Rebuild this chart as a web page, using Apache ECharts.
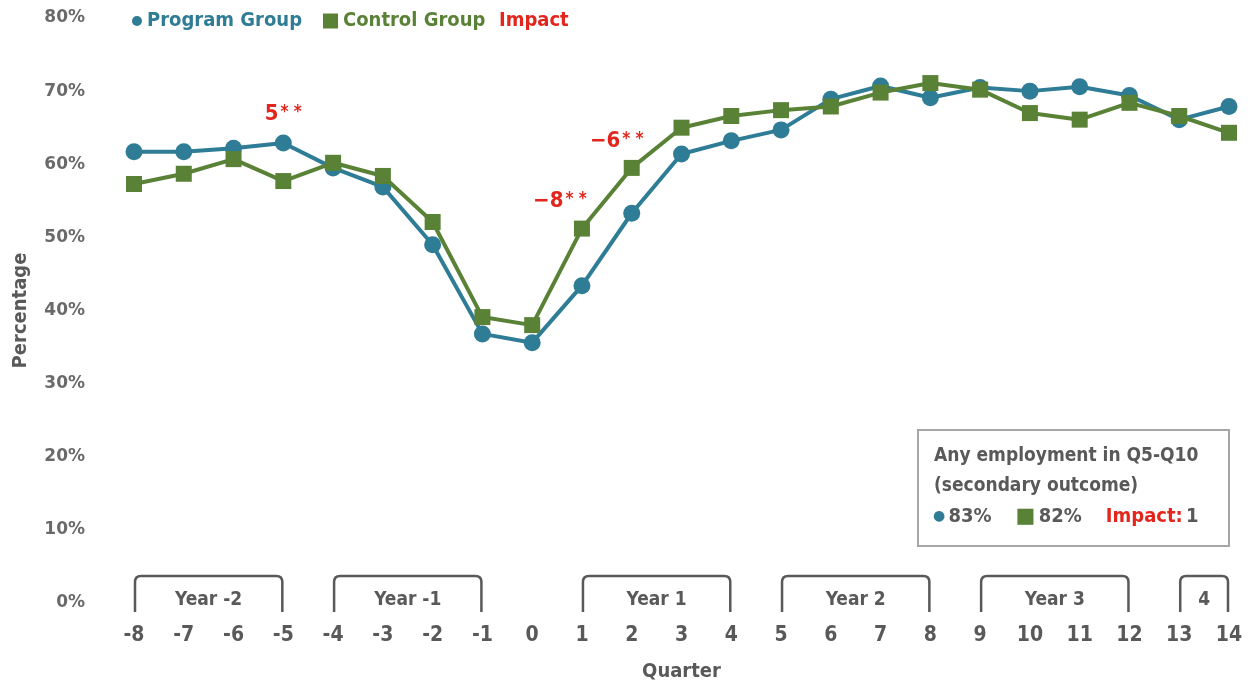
<!DOCTYPE html>
<html>
<head>
<meta charset="utf-8">
<title>Employment by quarter</title>
<script src="https://cdn.jsdelivr.net/npm/echarts@6/dist/echarts.min.js"></script>
<style>
  html, body { margin: 0; padding: 0; background: #fff; }
  #chart { width: 1250px; height: 684px; }
</style>
</head>
<body>
<div id="chart"></div>
<script>
// Quarters relative to random assignment
const quarters = [-8, -7, -6, -5, -4, -3, -2, -1, 0, 1, 2, 3, 4, 5, 6, 7, 8, 9, 10, 11, 12, 13, 14];

// Share employed in each quarter (%)
const programGroup = [61.7, 61.7, 62.2, 62.9, 59.5, 56.9, 49.0, 36.8, 35.6, 43.4, 53.3, 61.4, 63.2, 64.7, 68.9, 70.7, 69.1, 70.5, 70.0, 70.6, 69.4, 66.1, 67.9];
const controlGroup = [57.3, 58.7, 60.7, 57.7, 60.2, 58.4, 52.1, 39.1, 38.0, 51.2, 59.5, 65.0, 66.6, 67.4, 67.9, 69.8, 71.1, 70.2, 67.0, 66.1, 68.4, 66.6, 64.3];

// Statistically significant impacts (percentage points)
const impactQuarters = [-5, 1, 2];
const impactLabels = ['5**', '\u22128**', '\u22126**'];

// Year groupings shown as brackets under the axis
const yearStart = [-8, -4, 1, 5, 9, 13];
const yearEnd = [-5, -1, 4, 8, 12, 14];
const yearLabels = ['Year -2', 'Year -1', 'Year 1', 'Year 2', 'Year 3', '4'];

// Summary box values
const summaryTitle = ['Any employment in Q5-Q10', '(secondary outcome)'];
const summaryProgram = '83%';
const summaryControl = '82%';
const summaryImpact = '1';

const yTicks = { min: 0, max: 80, interval: 10 };

const C_PROG = '#2E7C95';
const C_CTRL = '#5A8237';
const C_RED = '#E2261E';
const C_TEXT = '#595959';
const NARROW = "'DejaVu Sans Condensed', 'Liberation Sans Narrow', sans-serif";
const WIDE = "'DejaVu Sans', 'Liberation Sans', sans-serif";

// Label offsets for the impact annotations (pixels)
const impactOffsets = { '-5': [0, -12], '1': [-22, -11], '2': [-15, -10] };

const impactPoints = impactQuarters.map((q, i) => {
  const idx = quarters.indexOf(q);
  const y = Math.max(programGroup[idx], controlGroup[idx]);
  const m = impactLabels[i].match(/^(.*?)(\*+)$/);
  return {
    value: [q, y],
    label: {
      offset: impactOffsets[String(q)],
      formatter: '{n|' + m[1] + '}{s|' + m[2].split('').join(' ') + '}'
    }
  };
});

const chart = echarts.init(document.getElementById('chart'), null, { renderer: 'canvas' });

function bracketItem(params, api) {
  const i = params.dataIndex;
  const s = api.coord([api.value(0), 0]);
  const e = api.coord([api.value(1), 0]);
  const base = s[1];
  const top = base - 27;
  const bot = base + 9;
  const r = 6;
  const x1 = s[0] + 1, x2 = e[0] - 1;
  const d = 'M' + x1 + ' ' + bot +
    ' L' + x1 + ' ' + (top + r) +
    ' Q' + x1 + ' ' + top + ' ' + (x1 + r) + ' ' + top +
    ' L' + (x2 - r) + ' ' + top +
    ' Q' + x2 + ' ' + top + ' ' + x2 + ' ' + (top + r) +
    ' L' + x2 + ' ' + bot;
  return {
    type: 'group',
    children: [
      { type: 'path', shape: { pathData: d }, style: { stroke: C_TEXT, lineWidth: 2.5, fill: null } },
      {
        type: 'text',
        style: {
          text: yearLabels[i], x: (s[0] + e[0]) / 2, y: base - 3,
          align: 'center', verticalAlign: 'middle',
          font: 'bold 19px ' + NARROW, fill: C_TEXT
        }
      }
    ]
  };
}

const option = {
  animation: false,
  backgroundColor: '#fff',
  grid: { left: 134, right: 21, top: 18, bottom: 81, containLabel: false, outerBoundsMode: 'none' },
  legend: [
    {
      data: ['Program Group'], icon: 'circle', left: 127, top: 6,
      itemWidth: 10, itemHeight: 10, itemGap: 0,
      textStyle: { color: C_PROG, fontFamily: NARROW, fontWeight: 'bold', fontSize: 20 },
      selectedMode: false
    },
    {
      data: ['Control Group'], icon: 'rect', left: 318, top: 6,
      itemWidth: 15, itemHeight: 15,
      textStyle: { color: C_CTRL, fontFamily: NARROW, fontWeight: 'bold', fontSize: 20 },
      selectedMode: false
    },
    {
      data: [{ name: 'Impact', icon: 'none' }], left: 489, top: 6,
      itemWidth: 0, itemHeight: 0,
      textStyle: { color: C_RED, fontFamily: NARROW, fontWeight: 'bold', fontSize: 20 },
      selectedMode: false
    }
  ],
  xAxis: {
    type: 'value', min: -8, max: 14, interval: 1,
    axisLine: { show: false }, axisTick: { show: false }, splitLine: { show: false },
    axisLabel: {
      margin: 22, color: C_TEXT, fontFamily: NARROW, fontWeight: 'bold', fontSize: 21,
      formatter: v => String(v), showMinLabel: true, showMaxLabel: true
    },
    name: 'Quarter', nameLocation: 'middle', nameGap: 59,
    nameTextStyle: { color: C_TEXT, fontFamily: NARROW, fontWeight: 'bold', fontSize: 20 }
  },
  yAxis: {
    type: 'value', min: yTicks.min, max: yTicks.max, interval: yTicks.interval,
    axisLine: { show: false }, axisTick: { show: false }, splitLine: { show: false },
    axisLabel: {
      margin: 49, color: '#6a6a6a', fontFamily: WIDE, fontWeight: 'bold', fontSize: 17,
      formatter: '{value}%'
    },
    name: 'Percentage', nameLocation: 'middle', nameGap: 103, nameRotate: 90,
    nameTextStyle: { color: C_TEXT, fontFamily: NARROW, fontWeight: 'bold', fontSize: 20 }
  },
  series: [
    {
      name: 'Program Group', type: 'line',
      data: quarters.map((q, i) => [q, programGroup[i]]),
      symbol: 'circle', symbolSize: 17,
      lineStyle: { color: C_PROG, width: 4 },
      itemStyle: { color: C_PROG },
      z: 2
    },
    {
      name: 'Control Group', type: 'line',
      data: quarters.map((q, i) => [q, controlGroup[i]]),
      symbol: 'rect', symbolSize: 16,
      lineStyle: { color: C_CTRL, width: 4 },
      itemStyle: { color: C_CTRL },
      z: 3
    },
    {
      name: 'Impact', type: 'scatter',
      data: impactPoints,
      symbolSize: 1,
      itemStyle: { color: C_RED, opacity: 1 },
      emphasis: { disabled: true },
      label: {
        show: true, position: 'top', distance: 5,
        opacity: 1, textBorderWidth: 0,
        rich: {
          n: { color: C_RED, fontFamily: NARROW, fontWeight: 'bold', fontSize: 22, textBorderWidth: 0, opacity: 1 },
          s: { color: C_RED, fontFamily: NARROW, fontWeight: 'bold', fontSize: 17, padding: [0, 0, 4, 2], textBorderWidth: 0, opacity: 1 }
        }
      },
      z: 1
    },
    {
      name: 'years', type: 'custom', coordinateSystem: 'cartesian2d',
      clip: false, silent: true,
      encode: { x: [0, 1] },
      data: yearStart.map((s, i) => [s, yearEnd[i]]),
      renderItem: bracketItem,
      z: 1
    }
  ],
  graphic: [
    {
      type: 'group', left: 917, top: 429,
      children: [
        {
          type: 'rect', shape: { x: 0, y: 0, width: 311, height: 116 },
          style: { fill: '#fff', stroke: '#a6a6a6', lineWidth: 2 }
        },
        {
          type: 'text', x: 16, y: 11,
          style: {
            text: summaryTitle[0] + '\n' + summaryTitle[1],
            font: 'bold 19px ' + NARROW, fill: C_TEXT, lineHeight: 30
          }
        },
        {
          type: 'text', x: 15, y: 76,
          style: {
            text: '{cp|\u25CF} {v|' + summaryProgram + '}{gap|}{cc|\u25A0} {v|' + summaryControl + '}{gap|}{r|Impact:} {v|' + summaryImpact + '}',
            rich: {
              cp: { fill: C_PROG, fontSize: 14, fontFamily: WIDE, verticalAlign: 'middle' },
              cc: { fill: C_CTRL, fontSize: 21, fontFamily: WIDE },
              v: { fill: C_TEXT, font: 'bold 20px ' + NARROW },
              r: { fill: C_RED, font: 'bold 20px ' + NARROW },
              gap: { width: 24 }
            }
          }
        }
      ]
    }
  ]
};

chart.setOption(option);
</script>
</body>
</html>
